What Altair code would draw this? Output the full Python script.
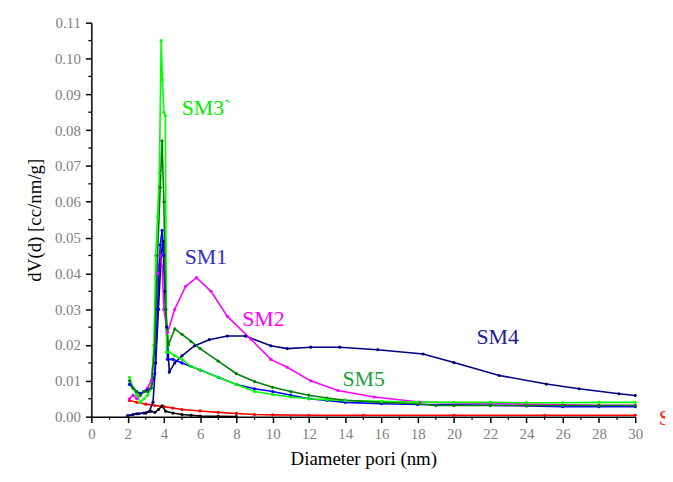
import altair as alt
import pandas as pd

# ---- data ----
sm3_d = [2.1, 2.3, 2.5, 2.7, 2.9, 3.1, 3.3, 3.45, 3.55, 3.65, 3.75, 3.85, 3.92, 4.0, 4.08, 4.15, 4.3, 4.6, 5.0, 5.5, 6.0, 7.0, 8.0, 9.0, 10.0, 11.0, 12.0, 13.0, 14.0, 16.0, 18.0, 20.0, 22.0, 24.0, 26.0, 28.0, 30.0]
sm3_v = [0.011, 0.008, 0.006, 0.004, 0.005, 0.006, 0.008, 0.02, 0.045, 0.056, 0.068, 0.105, 0.094, 0.085, 0.084, 0.018, 0.018, 0.017, 0.016, 0.014, 0.013, 0.011, 0.009, 0.007, 0.0062, 0.0055, 0.005, 0.0047, 0.0045, 0.0043, 0.0041, 0.0040, 0.0040, 0.0039, 0.0039, 0.0040, 0.0040]

sm5_d = [2.1, 2.3, 2.5, 2.7, 2.9, 3.1, 3.3, 3.5, 3.65, 3.8, 3.9, 4.0, 4.1, 4.25, 4.6, 5.0, 5.5, 6.0, 7.0, 8.0, 9.0, 10.0, 11.0, 12.0, 13.0, 14.0, 16.0, 18.0, 19.0, 20.0, 22.0, 24.0, 26.0, 28.0, 30.0]
sm5_v = [0.010, 0.008, 0.007, 0.006, 0.007, 0.007, 0.008, 0.020, 0.045, 0.064, 0.077, 0.060, 0.030, 0.020, 0.0245, 0.023, 0.021, 0.019, 0.0155, 0.012, 0.0098, 0.0082, 0.007, 0.006, 0.0052, 0.0046, 0.0040, 0.0036, 0.0031, 0.0031, 0.0031, 0.0031, 0.0031, 0.0031, 0.0031]

sm1_d = [2.1, 2.3, 2.5, 2.7, 2.9, 3.1, 3.3, 3.5, 3.65, 3.8, 3.9, 4.0, 4.1, 4.2, 4.5, 5.0, 5.5, 6.0, 7.0, 8.0, 9.0, 10.0, 11.0, 12.0, 13.0, 14.0, 16.0, 18.0, 20.0, 22.0, 24.0, 26.0, 28.0, 30.0]
sm1_v = [0.009, 0.008, 0.007, 0.0065, 0.007, 0.0075, 0.008, 0.012, 0.030, 0.048, 0.052, 0.045, 0.030, 0.016, 0.016, 0.015, 0.014, 0.013, 0.011, 0.009, 0.0078, 0.007, 0.006, 0.005, 0.0045, 0.004, 0.0036, 0.0034, 0.0033, 0.0032, 0.003, 0.0028, 0.0028, 0.0028]

sm2_d = [2.1, 2.3, 2.5, 2.7, 2.9, 3.1, 3.3, 3.5, 3.65, 3.8, 3.9, 4.0, 4.2, 4.6, 5.2, 5.8, 6.6, 7.5, 8.8, 9.9, 10.8, 12.1, 13.6, 15.6, 18.1, 20.0, 22.0, 24.0, 26.0, 28.0, 30.0]
sm2_v = [0.005, 0.006, 0.005, 0.006, 0.007, 0.008, 0.010, 0.020, 0.040, 0.045, 0.042, 0.030, 0.0235, 0.030, 0.0364, 0.0388, 0.035, 0.028, 0.0216, 0.016, 0.0138, 0.010, 0.0073, 0.0055, 0.0041, 0.0038, 0.0037, 0.0035, 0.0033, 0.0032, 0.0032]

sm4_d = [2.0, 2.3, 2.6, 2.9, 3.2, 3.4, 3.55, 3.7, 3.85, 3.95, 4.05, 4.15, 4.3, 4.6, 5.0, 5.7, 6.5, 7.5, 8.5, 9.9, 10.8, 12.1, 13.7, 15.8, 18.3, 20.0, 22.5, 25.1, 26.9, 29.1, 30.0]
sm4_v = [0.0003, 0.0006, 0.0008, 0.001, 0.0015, 0.004, 0.015, 0.030, 0.045, 0.049, 0.035, 0.025, 0.0125, 0.015, 0.017, 0.0198, 0.0215, 0.0225, 0.0225, 0.0198, 0.019, 0.0194, 0.0194, 0.0187, 0.0175, 0.0151, 0.0115, 0.0091, 0.0078, 0.0064, 0.0059]

s_d = [2.1, 2.5, 3.0, 3.5, 4.0, 4.5, 5.0, 6.0, 7.0, 8.0, 9.0, 10.0, 12.0, 15.0, 20.0, 25.0, 30.0]
s_v = [0.0045, 0.004, 0.0035, 0.0031, 0.0028, 0.0024, 0.002, 0.0016, 0.0012, 0.0009, 0.0006, 0.0005, 0.0004, 0.0004, 0.0004, 0.0004, 0.0004]

k_d = [2.0, 2.5, 3.0, 3.3, 3.5, 3.7, 3.9, 4.1, 4.5, 5.0, 5.5, 6.0, 7.0, 8.0]
k_v = [0.0002, 0.0008, 0.001, 0.0015, 0.0012, 0.002, 0.003, 0.0015, 0.001, 0.0006, 0.0004, 0.0002, 0.0001, 0.0]

series_names = ["S", "K", "SM4", "SM2", "SM1", "SM3`", "SM5"]
series_colors = ["#ff0000", "#000000", "#000080", "#ff00ff", "#0000ff", "#00ff00", "#008000"]
series_data = {"S": (s_d, s_v), "K": (k_d, k_v), "SM4": (sm4_d, sm4_v), "SM2": (sm2_d, sm2_v),
               "SM1": (sm1_d, sm1_v), "SM3`": (sm3_d, sm3_v), "SM5": (sm5_d, sm5_v)}

label_text = ["SM3`", "SM1", "SM2", "SM4", "SM5", "S"]
label_x = [4.98, 5.15, 8.32, 21.24, 13.85, 31.3]
label_y = [0.0862, 0.0446, 0.0272, 0.0222, 0.0105, -0.0004]
label_color = ["#00ee00", "#3030c0", "#ff00ff", "#202090", "#20a040", "#ff2020"]

x_major = list(range(0, 31, 2))
x_minor = list(range(1, 30, 2))
y_major = [round(i * 0.01, 2) for i in range(12)]
y_minor = [round(0.005 + i * 0.01, 3) for i in range(11)]

rows = []
for order, name in enumerate(series_names):
    d, v = series_data[name]
    for i, (a, b) in enumerate(zip(d, v)):
        rows.append({"series": name, "d": a, "v": b, "ord": order, "i": i})
df = pd.DataFrame(rows)

lab = pd.DataFrame({"t": label_text, "x": label_x, "y": label_y, "c": label_color})
xmin_df = pd.DataFrame({"d": x_minor})
ymin_df = pd.DataFrame({"v": y_minor})

FONT = "Liberation Serif"
H = 397
xs = alt.Scale(domain=[0, 30], nice=False, zero=False)
ys = alt.Scale(domain=[0, 0.11], nice=False)

xaxis = alt.Axis(
    values=x_major, title="Diameter pori (nm)", orient="bottom", format="d",
    tickSize=6, labelPadding=4, titlePadding=8, labelFlush=False, labelOverlap=False,
    labelColor="#808080", labelFont=FONT, labelFontSize=15,
    titleFont=FONT, titleFontSize=19, titleFontWeight="normal", titleColor="#000000",
    domainColor="#000000", domainWidth=1.5, tickColor="#000000", tickWidth=1.5, grid=False)
yaxis = alt.Axis(
    values=y_major, title="dV(d) [cc/nm/g]", orient="left", format=".2f",
    tickSize=6, labelPadding=5, titlePadding=10, labelFlush=False, labelOverlap=False,
    labelColor="#808080", labelFont=FONT, labelFontSize=15,
    titleFont=FONT, titleFontSize=19, titleFontWeight="normal", titleColor="#000000",
    domainColor="#000000", domainWidth=1.5, tickColor="#000000", tickWidth=1.5, grid=False)

color = alt.Color("series:N", scale=alt.Scale(domain=series_names, range=series_colors), legend=None)

lines = alt.Chart(df).mark_line(strokeWidth=1.6, point=alt.OverlayMarkDef(size=10, filled=True)).encode(
    x=alt.X("d:Q", scale=xs, axis=xaxis),
    y=alt.Y("v:Q", scale=ys, axis=yaxis),
    color=color,
    detail="series:N",
    order=alt.Order("i:Q"),
)

xminor = alt.Chart(xmin_df).mark_rule(color="#000000", strokeWidth=1.3).encode(
    x=alt.X("d:Q", scale=xs, axis=xaxis),
    y=alt.value(H),
    y2=alt.value(H + 3),
)
yminor = alt.Chart(ymin_df).mark_rule(color="#000000", strokeWidth=1.3).encode(
    y=alt.Y("v:Q", scale=ys, axis=yaxis),
    x=alt.value(0),
    x2=alt.value(-3),
)

texts = alt.Chart(lab).mark_text(font=FONT, fontSize=22, align="left", baseline="middle").encode(
    x=alt.X("x:Q", scale=xs, axis=xaxis),
    y=alt.Y("y:Q", scale=ys, axis=yaxis),
    text="t:N",
    color=alt.Color("c:N", scale=None),
)

chart = alt.layer(lines, xminor, yminor, texts).properties(
    width=548, height=H,
    background="#ffffff",
    autosize=alt.AutoSizeParams(type="none"),
    padding={"left": 84, "top": 13, "right": 30, "bottom": 56},
).configure_view(stroke=None)

chart.save("out.html", embed_options={"renderer": "svg", "actions": False})
